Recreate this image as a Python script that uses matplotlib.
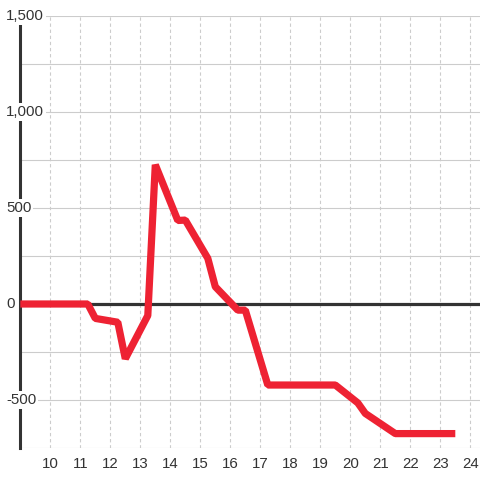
import matplotlib
matplotlib.use("Agg")
import matplotlib.pyplot as plt
from matplotlib.transforms import blended_transform_factory

# Werte (Stunde, Wert)
stunden = [9, 11.25, 11.5, 12.25, 12.5, 13.25, 13.5, 14.25, 14.5, 15.25, 15.5,
           16.25, 16.5, 17.25, 19.5, 20.25, 20.5, 21.5, 23.5]
werte = [0, 0, -75, -95, -285, -60, 725, 435, 437, 238, 90,
         -32, -32, -422, -422, -515, -570, -675, -675]

x_ticks = list(range(10, 25))
y_grid = [-750, -500, -250, 0, 250, 500, 750, 1000, 1250, 1500]
y_labels = [-500, 0, 500, 1000, 1500]

plt.rcParams["font.family"] = ["Liberation Sans", "DejaVu Sans"]

fig = plt.figure(figsize=(4.8, 4.8), dpi=100)
ax = fig.add_axes([20.3 / 480, 32 / 480, 459.7 / 480, 432 / 480])

ax.set_xlim(9, 9 + 459.7 / 30)
ax.set_ylim(-750, 1500)

# Gitter
for y in y_grid:
    ax.axhline(y, color="#cccccc", lw=0.8, zorder=1)
for x in x_ticks:
    ax.axvline(x, color="#cccccc", lw=0.8, ls=(0, (3, 2.5)), zorder=1)
ax.axhline(0, color="#333333", lw=2.3, zorder=2)

ax.plot(stunden, werte, color="#ee2233", lw=5.2, zorder=3,
        solid_joinstyle="bevel", solid_capstyle="butt")

for s in ["top", "right", "bottom"]:
    ax.spines[s].set_visible(False)
ax.spines["left"].set_color("#333333")
ax.spines["left"].set_linewidth(2.2)
ax.spines["left"].set_zorder(2)

ax.set_xticks(x_ticks)
ax.set_xticklabels([str(x) for x in x_ticks])
ax.set_yticks([])
ax.tick_params(axis="x", length=0, pad=6.5, labelsize=10.8, labelcolor="#333333")

trans = blended_transform_factory(fig.transFigure, ax.transData)
for v in y_labels:
    ax.text(6 / 480, v, f"{v:,}", transform=trans, ha="left", va="center",
            fontsize=10.8, color="#333333", zorder=5, clip_on=False,
            bbox=dict(facecolor="white", edgecolor="none", pad=1.5))

fig.savefig("out.png", dpi=100)
